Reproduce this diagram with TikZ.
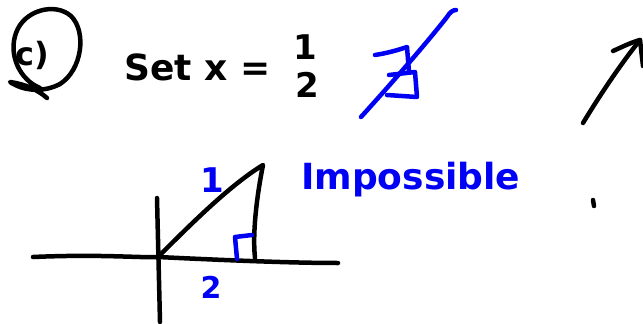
\documentclass[tikz,border=0pt]{standalone}
\usepackage{fontspec}
\setmainfont{DejaVu Sans}
\begin{document}
\begin{tikzpicture}[x=1pt,y=-1pt,
  ink/.style={line width=4.5pt,line cap=round,line join=round},
  blk/.style={ink,black},
  blu/.style={ink,draw=inkblue},
  hand/.style={inner sep=0pt,font=\bfseries},
  ]
\definecolor{inkblue}{RGB}{0,0,245}
\useasboundingbox (0,0) rectangle (643,324);
% circled c)
\draw[blk] (40,88) .. controls (20,80) and (8,55) .. (16,33)
  .. controls (24,10) and (55,2) .. (71,16)
  .. controls (87,32) and (82,70) .. (60,84)
  .. controls (45,92) and (25,92) .. (10,82)
  .. controls (25,84) and (38,90) .. (47,98);
\node[hand,font=\bfseries\fontsize{32}{32}\selectfont] (lab) at (32,55) {c)};
% Set x = 1/2
\node[hand,font=\bfseries\fontsize{36}{36}\selectfont,anchor=base west] (setx) at (124,80) {Set x =};
\node[hand,font=\bfseries\fontsize{34}{34}\selectfont] (num) at (305,47) {1};
\node[hand,font=\bfseries\fontsize{34}{34}\selectfont] (den) at (307,85) {2};
% blue crossed symbol
\draw[blu] (375,55) .. controls (388,53) and (398,50) .. (407,47) -- (409,72);
\draw[blu] (389,75) -- (415,72) -- (417,97) -- (387,95);
\draw[blu] (361,117) .. controls (390,85) and (425,45) .. (447,17)
  .. controls (450,12) and (453,10) .. (456,10);
% arrow
\coordinate (a0) at (583,123);
\coordinate (a1) at (640,40);
\draw[blk] (a0) .. controls (600,95) and (620,65) .. (a1);
\draw[blk] (613,51) .. controls (622,47) and (632,42) .. (a1) -- (643,66);
% axes
\draw[blk] (33,257) .. controls (100,254) and (140,258) .. (158,257)
  .. controls (220,260) and (290,263) .. (338,263);
\draw[blk] (157,198) -- (160,322);
% triangle
\coordinate (o) at (158,257);
\coordinate (t) at (263,165);
\draw[blk] (o) .. controls (190,225) and (230,185) .. (t)
  .. controls (258,190) and (252,230) .. (255,258);
% right angle mark
\draw[blu] (237,259) -- (235,237) -- (252,235);
% labels
\node[hand,text=inkblue,font=\bfseries\fontsize{34}{34}\selectfont] (one) at (212,180) {1};
\node[hand,text=inkblue,font=\bfseries\fontsize{30}{30}\selectfont] (two) at (211,287) {2};
\node[hand,text=inkblue,font=\bfseries\fontsize{36}{36}\selectfont,anchor=west] (imp) at (301,180) {Impossible};
% dot
\draw[blk] (593,200) -- (594,206);
\end{tikzpicture}
\end{document}
